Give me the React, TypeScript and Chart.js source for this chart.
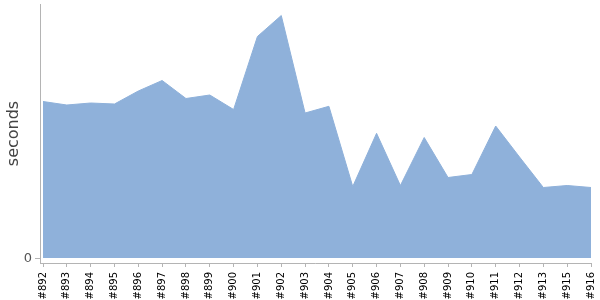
import React, { useEffect, useRef } from "react";
import { Chart, registerables } from "chart.js";

Chart.register(...registerables);

const builds = ["#892","#893","#894","#895","#896","#897","#898","#899","#900","#901","#902","#903","#904","#905","#906","#907","#908","#909","#910","#911","#912","#913","#915","#916"];
const seconds = [156.5,153,155,154,167,177.5,159.5,163,148.5,221.5,242.5,145,151.7,71.5,124.7,72.5,120.5,80.5,83.5,132,101,70.5,72.5,70.5];
const yMin = -5;
const yMax = 254;
const yTickLabels = ["0"];

const axisPlugin = {
  id: "axisLines",
  afterDraw(chart: any) {
    const { ctx, chartArea } = chart;
    const yScale = chart.scales.y;
    const ax = chartArea.left - 3;
    ctx.save();
    ctx.strokeStyle = "#b4b4b4";
    ctx.lineWidth = 1;
    ctx.beginPath();
    ctx.moveTo(Math.round(ax) + 0.5, chartArea.top);
    ctx.lineTo(Math.round(ax) + 0.5, chartArea.bottom + 1);
    ctx.moveTo(Math.round(ax), Math.round(chartArea.bottom) + 0.5);
    ctx.lineTo(chartArea.right + 0.5, Math.round(chartArea.bottom) + 0.5);
    const y0 = Math.round(yScale.getPixelForValue(0)) + 0.5;
    ctx.moveTo(Math.round(ax) - 5, y0);
    ctx.lineTo(Math.round(ax), y0);
    ctx.stroke();
    ctx.fillStyle = "#555";
    ctx.font = "13px 'DejaVu Sans'";
    ctx.textAlign = "right";
    ctx.textBaseline = "middle";
    ctx.fillText(yTickLabels[0], Math.round(ax) - 8, y0);
    ctx.restore();
  },
};

export default function App() {
  const ref = useRef<HTMLCanvasElement>(null);
  useEffect(() => {
    if (!ref.current) return;
    const chart = new Chart(ref.current, {
      type: "line",
      data: {
        labels: builds,
        datasets: [
          {
            data: seconds,
            fill: "origin",
            backgroundColor: "#8fb1da",
            borderColor: "#8fb1da",
            borderWidth: 1,
            pointRadius: 0,
            tension: 0,
          },
        ],
      },
      options: {
        animation: false,
        responsive: true,
        maintainAspectRatio: false,
        layout: { padding: { top: 4, right: 9, left: 0, bottom: 0 } },
        plugins: { legend: { display: false }, tooltip: { enabled: false } },
        scales: {
          x: {
            offset: false,
            afterFit: (s: any) => { s.height = 37; s.paddingLeft = 0; s.paddingRight = 0; },
            ticks: {
              autoSkip: false,
              minRotation: 90,
              maxRotation: 90,
              padding: 5,
              color: "#000",
              font: { family: "'DejaVu Sans'", size: 10 },
            },
            grid: { display: true, drawOnChartArea: false, drawTicks: true, tickLength: 4, color: "#b4b4b4" },
            border: { display: false },
          },
          y: {
            min: yMin,
            max: yMax,
            afterFit: (s: any) => { s.width = 43; s.paddingTop = 0; s.paddingBottom = 0; },
            ticks: { display: false },
            grid: { display: false },
            border: { display: false },
            title: {
              display: true,
              text: "seconds",
              color: "#444",
              font: { family: "'DejaVu Sans'", size: 16 },
              padding: { top: 4, bottom: 0 },
            },
          },
        },
      },
      plugins: [axisPlugin],
    });
    return () => chart.destroy();
  }, []);
  return (
    <div style={{ position: "absolute", left: 0, top: 0, width: 600, height: 300 }}>
      <canvas ref={ref} />
    </div>
  );
}
